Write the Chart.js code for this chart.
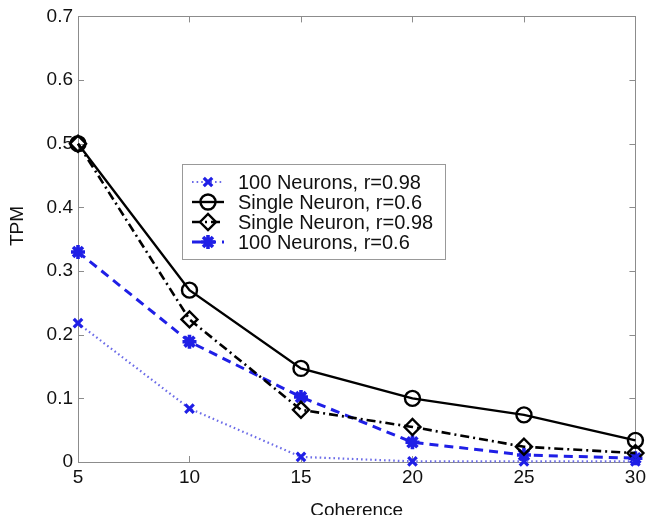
<!DOCTYPE html>
<html>
<head>
<meta charset="utf-8">
<style>
  html, body { margin: 0; padding: 0; background: #fff; }
  #wrap { width: 650px; height: 515px; position: relative; }
</style>
<script src="https://cdn.jsdelivr.net/npm/chart.js@4/dist/chart.umd.min.js"></script>
</head>
<body>
<div id="wrap"><canvas id="c" width="650" height="515"></canvas></div>
<script>
// Coherence levels (x axis)
const coherence = [5, 10, 15, 20, 25, 30];

// TPM for each model
const neurons100_r098 = [0.218, 0.084, 0.008, 0.001, 0.001, 0.001];
const single_r06      = [0.500, 0.270, 0.147, 0.100, 0.074, 0.034];
const single_r098     = [0.500, 0.224, 0.082, 0.055, 0.024, 0.014];
const neurons100_r06  = [0.330, 0.189, 0.102, 0.031, 0.011, 0.006];

const seriesLabels = [
  "100 Neurons, r=0.98",
  "Single Neuron, r=0.6",
  "Single Neuron, r=0.98",
  "100 Neurons, r=0.6"
];

const xTicks = [5, 10, 15, 20, 25, 30];
const yTicks = [0, 0.1, 0.2, 0.3, 0.4, 0.5, 0.6, 0.7];

const FONT = "'Liberation Sans', Arial, Helvetica, sans-serif";
const AXIS_GREY = "#8c8c8c";

function pts(ys) { return coherence.map((x, i) => ({ x: x, y: ys[i] })); }

const datasets = [
  {
    label: seriesLabels[0], data: pts(neurons100_r098),
    borderColor: "#6c6ce8", borderWidth: 2.2, borderDash: [1.6, 3],
    pointStyle: "crossRot", pointRadius: 6, pointBorderWidth: 3.2,
    pointBorderColor: "#1f1fe6", pointBackgroundColor: "#1f1fe6"
  },
  {
    label: seriesLabels[1], data: pts(single_r06),
    borderColor: "#000", borderWidth: 2.4, borderDash: [],
    pointStyle: "circle", pointRadius: 7.5, pointBorderWidth: 2.4,
    pointBorderColor: "#000", pointBackgroundColor: "rgba(0,0,0,0)"
  },
  {
    label: seriesLabels[2], data: pts(single_r098),
    borderColor: "#000", borderWidth: 2.6, borderDash: [9, 4, 2, 4],
    pointStyle: "rectRot", pointRadius: 8, pointBorderWidth: 2.4,
    pointBorderColor: "#000", pointBackgroundColor: "rgba(0,0,0,0)"
  },
  {
    label: seriesLabels[3], data: pts(neurons100_r06),
    borderColor: "#1f1fe6", borderWidth: 3, borderDash: [9, 6],
    pointStyle: "star", pointRadius: 7, pointBorderWidth: 3.6,
    pointBorderColor: "#1f1fe6", pointBackgroundColor: "#1f1fe6"
  }
].map(d => Object.assign(d, { tension: 0, clip: false, fill: false }));

// Inward ticks on all four sides plus the surrounding box
const frameTicks = {
  id: "frameTicks",
  beforeDatasetsDraw(chart) {
    const { ctx, chartArea: a, scales } = chart;
    const L = 6;
    ctx.save();
    ctx.strokeStyle = AXIS_GREY;
    ctx.lineWidth = 1;
    xTicks.forEach(v => {
      const px = Math.round(scales.x.getPixelForValue(v)) + 0.5;
      ctx.beginPath();
      ctx.moveTo(px, a.bottom); ctx.lineTo(px, a.bottom - L);
      ctx.moveTo(px, a.top); ctx.lineTo(px, a.top + L);
      ctx.stroke();
    });
    yTicks.forEach(v => {
      const py = Math.round(scales.y.getPixelForValue(v)) + 0.5;
      ctx.beginPath();
      ctx.moveTo(a.left, py); ctx.lineTo(a.left + L, py);
      ctx.moveTo(a.right, py); ctx.lineTo(a.right - L, py);
      ctx.stroke();
    });
    ctx.strokeRect(Math.round(a.left) + 0.5, Math.round(a.top) + 0.5,
                   Math.round(a.right - a.left), Math.round(a.bottom - a.top));
    ctx.restore();
  }
};

// Axis titles
const axisTitles = {
  id: "axisTitles",
  afterDraw(chart) {
    const { ctx, chartArea: a } = chart;
    ctx.save();
    ctx.fillStyle = "#111";
    ctx.font = "19px " + FONT;
    ctx.textAlign = "center";
    ctx.textBaseline = "middle";
    ctx.fillText("Coherence", (a.left + a.right) / 2, 511);
    ctx.translate(18, 226);
    ctx.rotate(-Math.PI / 2);
    ctx.fillText("TPM", 0, 0);
    ctx.restore();
  }
};

// Boxed legend with line sample and marker per series
const boxLegend = {
  id: "boxLegend",
  afterDraw(chart) {
    const { ctx } = chart;
    const bx = 182, by = 164, bw = 263, bh = 95;
    const rowY = [182, 202, 222, 242];
    ctx.save();
    ctx.fillStyle = "#fff";
    ctx.fillRect(bx, by, bw, bh);
    ctx.strokeStyle = "#999";
    ctx.lineWidth = 1;
    ctx.strokeRect(bx + 0.5, by + 0.5, bw, bh);
    chart.data.datasets.forEach((ds, i) => {
      const y = rowY[i];
      ctx.save();
      ctx.strokeStyle = ds.borderColor;
      ctx.lineWidth = ds.borderWidth;
      ctx.setLineDash(ds.borderDash || []);
      ctx.beginPath();
      ctx.moveTo(192, y); ctx.lineTo(224, y);
      ctx.stroke();
      ctx.restore();
      ctx.save();
      ctx.strokeStyle = ds.pointBorderColor;
      ctx.fillStyle = ds.pointBackgroundColor;
      ctx.lineWidth = ds.pointBorderWidth;
      Chart.helpers.drawPoint(ctx, {
        pointStyle: ds.pointStyle, rotation: 0,
        radius: ds.pointRadius, borderWidth: ds.pointBorderWidth
      }, 208, y);
      ctx.restore();
      ctx.fillStyle = "#111";
      ctx.font = "20px " + FONT;
      ctx.textAlign = "left";
      ctx.textBaseline = "middle";
      ctx.fillText(ds.label, 238, y + 1);
    });
    ctx.restore();
  }
};

new Chart(document.getElementById("c"), {
  type: "line",
  data: { datasets: datasets },
  options: {
    responsive: false,
    animation: false,
    events: [],
    layout: { padding: { left: 0, right: 9, top: 16, bottom: 0 } },
    plugins: { legend: { display: false }, tooltip: { enabled: false } },
    scales: {
      x: {
        type: "linear", min: 5, max: 30,
        afterBuildTicks(s) { s.ticks = xTicks.map(v => ({ value: v })); },
        afterFit(s) { s.height = 53; },
        grid: { display: false, tickLength: 0 },
        border: { display: false },
        ticks: { color: "#111", font: { family: FONT, size: 19 }, padding: 4, maxRotation: 0 }
      },
      y: {
        type: "linear", min: 0, max: 0.7,
        afterBuildTicks(s) { s.ticks = yTicks.map(v => ({ value: v })); },
        afterFit(s) { s.width = 78; },
        grid: { display: false, tickLength: 0 },
        border: { display: false },
        ticks: {
          color: "#111", font: { family: FONT, size: 19 }, padding: 5,
          callback: v => String(Math.round(v * 10) / 10)
        }
      }
    }
  },
  plugins: [frameTicks, axisTitles, boxLegend]
});
</script>
</body>
</html>
